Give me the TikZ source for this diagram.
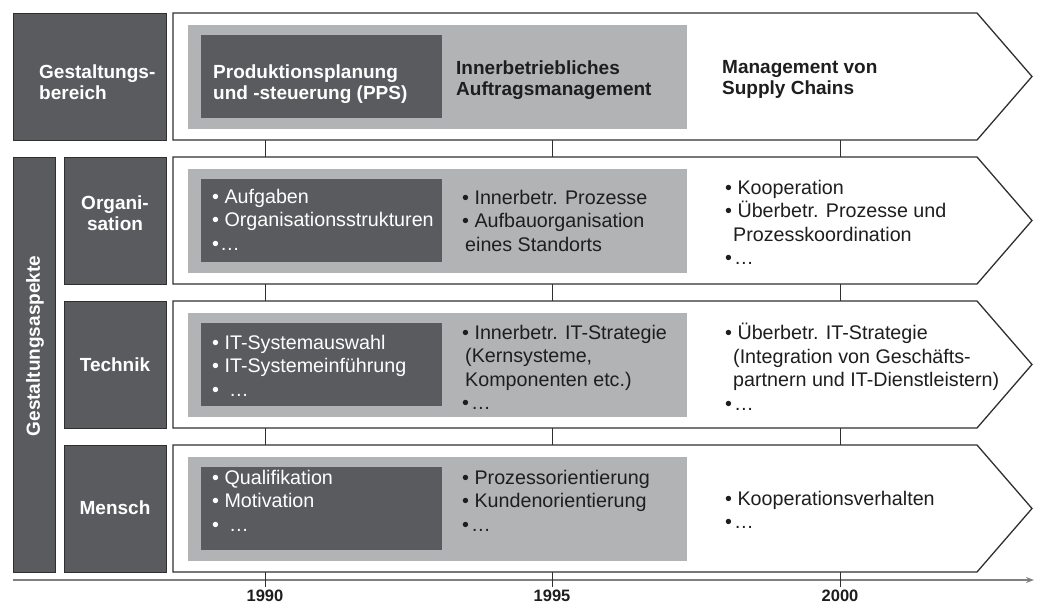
\documentclass[tikz,border=0pt]{standalone}
\usepackage{fontspec}
\setmainfont{Liberation Sans}
\usetikzlibrary{arrows.meta}

\definecolor{darkgrey}{RGB}{89,91,94}
\definecolor{lightgrey}{RGB}{178,179,181}
\definecolor{linegrey}{RGB}{48,48,48}
\definecolor{textgrey}{RGB}{30,30,30}
\definecolor{axisgrey}{RGB}{128,128,128}

\newcommand{\bl}{\textbullet\ }
\newcommand{\chevron}[2]{\draw[frame, fill=white] (173,#2) coordinate (#1-nw) -- (977,#2) -- (1032,{#2+63.5}) -- (977,{#2+127}) -- (173,{#2+127}) coordinate (#1-sw) -- cycle;}

\begin{document}
\begin{tikzpicture}[x=1pt, y=-1pt,
  frame/.style={draw=linegrey, line width=1.3pt},
  box/.style={fill=darkgrey, draw=linegrey, line width=1pt, inner sep=0},
  panel/.style={fill=#1, inner sep=0, anchor=north west},
  head/.style={anchor=north west, inner sep=0, align=left, text=#1, font=\bfseries\fontsize{19}{21}\selectfont},
  body/.style={anchor=north west, inner sep=0, align=left, text=#1, font=\fontsize{19.7}{23.5}\selectfont},
  year/.style={font=\bfseries\fontsize{16.5}{18}\selectfont, text=textgrey, inner sep=3pt}]
\useasboundingbox (0,0) rectangle (1039,605);

% left hand labels
\node[box, minimum width=153, minimum height=127] (bereichbox) at (89.5,76.5) {};
\node[head=white] (bereich) at (39,65) {Gestaltungs-\\bereich};
\node[box, minimum width=42, minimum height=415] (aspektebox) at (34,364.5) {};
\node[rotate=90, inner sep=0, text=white, font=\bfseries\fontsize{19}{21}\selectfont] (aspekte) at (35,346) {Gestaltungsaspekte};
\node[box, minimum width=102, minimum height=127] (orgabox) at (115,220.5) {};
\node[box, minimum width=102, minimum height=127] (techbox) at (115,364.5) {};
\node[box, minimum width=102, minimum height=127] (menschbox) at (115,508.5) {};
\node[head=white, anchor=center, align=center] (orga) at (115,213) {Organi-\\sation};
\node[head=white, anchor=center] (tech) at (115,365) {Technik};
\node[head=white, anchor=center] (mensch) at (115,508) {Mensch};

% years and time axis
\node[year] (y1990) at (265,596) {1990};
\node[year] (y1995) at (552,596) {1995};
\node[year] (y2000) at (840,596) {2000};
\coordinate (t0) at (13,580);
\coordinate (t1) at (1034,580);
\draw[axisgrey, line width=2pt, -{Stealth[length=8pt, width=6pt, fill=linegrey]}] (t0) -- (t1);

% rows
\chevron{r1}{13}
\chevron{r2}{157}
\chevron{r3}{301}
\chevron{r4}{445}
\foreach \r/\t in {1/13, 2/157, 3/301, 4/445} {
  \node[panel=lightgrey, minimum width=499, minimum height=104] (light\r) at (188,{\t+11.5}) {};
  \node[panel=darkgrey, minimum width=241, minimum height=83] (dark\r) at (201,{\t+22}) {};
}
\foreach \yr in {1990,1995,2000} {
  \draw[frame, line width=1pt] (r1-sw -| y\yr) -- (r2-nw -| y\yr);
  \draw[frame, line width=1pt] (r2-sw -| y\yr) -- (r3-nw -| y\yr);
  \draw[frame, line width=1pt] (r3-sw -| y\yr) -- (r4-nw -| y\yr);
  \draw[frame, line width=1pt] (r4-sw -| y\yr) -- (y\yr.north);
}

% Gestaltungsbereich
\node[head=white] (pps) at (213,65) {Produktionsplanung\\und -steuerung (PPS)};
\node[head=textgrey] (auftrag) at (456,61) {Innerbetriebliches\\Auftragsmanagement};
\node[head=textgrey] (scm) at (722,60) {Management von\\Supply Chains};

% Organisation
\node[body=white] (orga1) at (212,189) {\bl Aufgaben\\\bl Organisationsstrukturen\\\textbullet\hspace{1pt}…};
\node[body=textgrey] (orga2) at (462,190) {\bl Innerbetr. Prozesse\\\bl Aufbauorganisation\\\hspace*{3pt}eines Standorts};
\node[body=textgrey] (orga3) at (725,180) {\bl Kooperation\\\bl Überbetr. Prozesse und\\\hspace*{8pt}Prozesskoordination\\\textbullet\hspace{2pt}…};

% Technik
\node[body=white] (tech1) at (212,335) {\bl IT-Systemauswahl\\\bl IT-Systemeinführung\\\textbullet\hspace{10pt}…};
\node[body=textgrey] (tech2) at (462,325) {\bl Innerbetr. IT-Strategie\\\hspace*{3pt}(Kernsysteme,\\\hspace*{3pt}Komponenten etc.)\\\textbullet\hspace{2pt}…};
\node[body=textgrey] (tech3) at (725,323) {\bl Überbetr. IT-Strategie\\\hspace*{8pt}(Integration von Geschäfts-\\\hspace*{8pt}partnern und IT-Dienstleistern)\\\textbullet\hspace{2pt}…};

% Mensch
\node[body=white] (mensch1) at (212,470) {\bl Qualifikation\\\bl Motivation\\\textbullet\hspace{10pt}…};
\node[body=textgrey] (mensch2) at (462,470) {\bl Prozessorientierung\\\bl Kundenorientierung\\\textbullet\hspace{2pt}…};
\node[body=textgrey] (mensch3) at (725,491) {\bl Kooperationsverhalten\\\textbullet\hspace{2pt}…};
\end{tikzpicture}
\end{document}
